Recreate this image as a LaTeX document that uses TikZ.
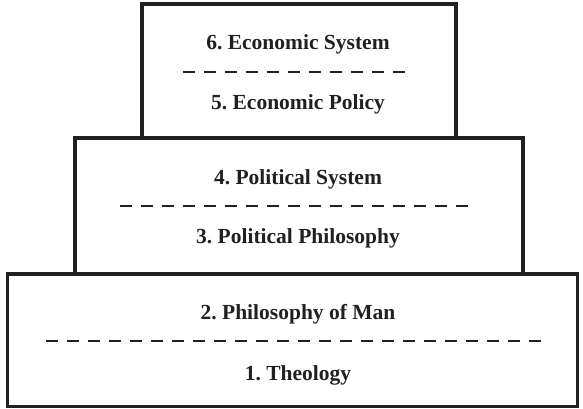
\documentclass[tikz,border=0pt]{standalone}
\usepackage{fontspec}
\setmainfont{Liberation Serif}
\definecolor{ink}{HTML}{231F20}
\begin{document}
\frenchspacing
\begin{tikzpicture}[x=1pt,y=-1pt,
  tier/.style={draw=ink, line width=3.2pt, rectangle, inner sep=0pt},
  tiertext/.style={anchor=base, inner sep=0pt, text=ink,
    font=\fontsize{21.5}{25}\selectfont\bfseries},
  divider/.style={draw=ink, line width=1.8pt, dash pattern=on 12pt off 9pt}]
\useasboundingbox (0,0) rectangle (583,409);

% three stacked tiers, widest at the bottom
\node[tier, minimum width=570pt, minimum height=132.5pt] (base) at (292.5,340.25) {};
\node[tier, minimum width=448pt, minimum height=135.5pt] (middle) at (299,205.75) {};
\node[tier, minimum width=314pt, minimum height=134pt] (top) at (299,71) {};

% dashed separators inside each tier
\coordinate (topL) at (182.5,72);
\coordinate (topR) at (404.5,72);
\coordinate (midL) at (119.5,206);
\coordinate (midR) at (467.5,206);
\coordinate (baseL) at (46,341);
\coordinate (baseR) at (541,341);
\draw[divider] (topL) -- (topR);
\draw[divider] (midL) -- (midR);
\draw[divider] (baseL) -- (baseR);

% tier labels
\node[tiertext] (t6) at (298,50) {6. Economic System};
\node[tiertext] (t5) at (298,110) {5. Economic Policy};
\node[tiertext] (t4) at (298,184) {4. Political System};
\node[tiertext] (t3) at (298,243) {3. Political Philosophy};
\node[tiertext] (t2) at (298,319) {2. Philosophy of Man};
\node[tiertext] (t1) at (298,380) {1. Theology};
\end{tikzpicture}
\end{document}
